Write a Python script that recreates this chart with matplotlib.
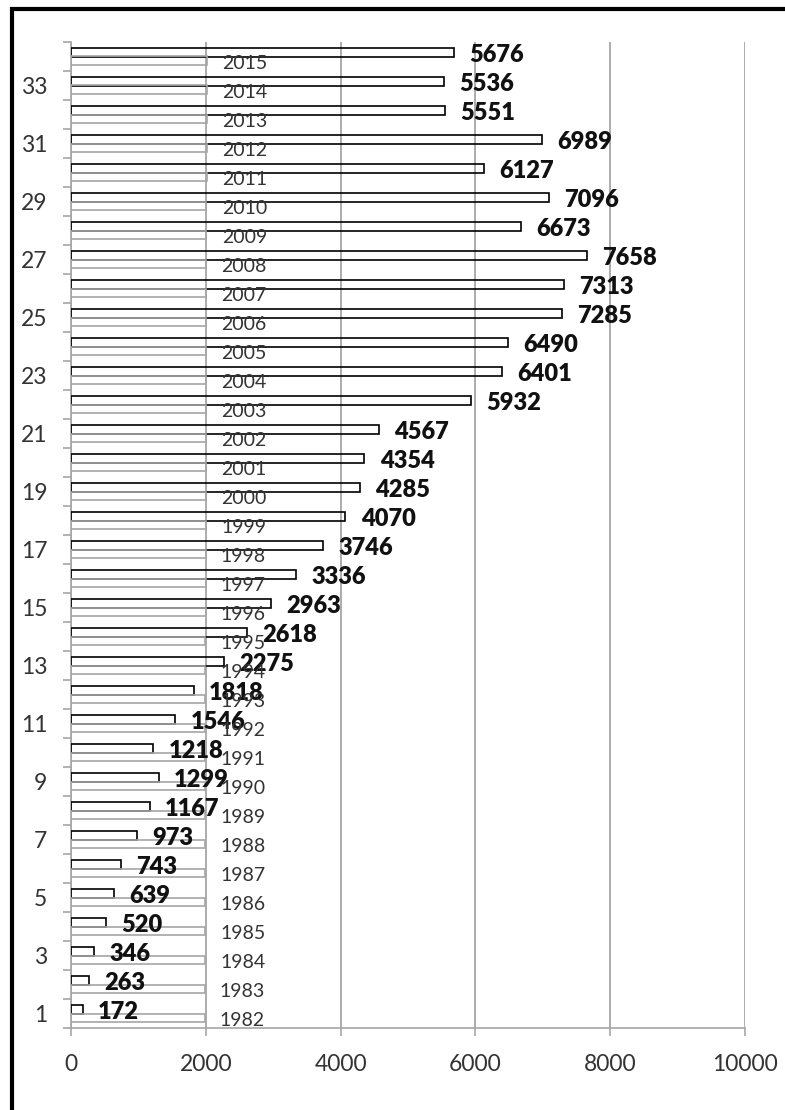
import numpy as np
import matplotlib.pyplot as plt
from matplotlib.patches import Rectangle

plt.rcParams['font.family'] = ['Lato', 'DejaVu Sans']

cats = [1, 2, 3, 4, 5, 6, 7, 8, 9, 10, 11, 12, 13, 14, 15, 16, 17,
        18, 19, 20, 21, 22, 23, 24, 25, 26, 27, 28, 29, 30, 31, 32, 33, 34]
values = [172, 263, 346, 520, 639, 743, 973, 1167, 1299, 1218, 1546, 1818,
          2275, 2618, 2963, 3336, 3746, 4070, 4285, 4354, 4567, 5932, 6401,
          6490, 7285, 7313, 7658, 6673, 7096, 6127, 6989, 5551, 5536, 5676]
years = [1982, 1983, 1984, 1985, 1986, 1987, 1988, 1989, 1990, 1991, 1992,
         1993, 1994, 1995, 1996, 1997, 1998, 1999, 2000, 2001, 2002, 2003,
         2004, 2005, 2006, 2007, 2008, 2009, 2010, 2011, 2012, 2013, 2014, 2015]
xticks = [0, 2000, 4000, 6000, 8000, 10000]
ylabels = [1, 3, 5, 7, 9, 11, 13, 15, 17, 19, 21, 23, 25, 27, 29, 31, 33]

W, H = 785, 1110
fig = plt.figure(figsize=(W / 100, H / 100), dpi=100)
ax = fig.add_axes([71 / W, (H - 1028) / H, (745 - 71) / W, (1028 - 42) / H])

grey = '#a6a6a6'
y = np.array(cats, dtype=float)
h = 0.31

ax.barh(y + h / 2, values, height=h, facecolor='none', edgecolor='black', lw=1.2, zorder=3)
ax.barh(y - h / 2, years, height=h, facecolor='none', edgecolor=grey, lw=1.2, zorder=3)

for yy, v in zip(y, values):
    ax.annotate(str(v), (v, yy + 0.06), xytext=(11, 0), textcoords='offset points',
                va='center', ha='left', fontsize=17, fontweight='heavy', color='#111111', zorder=4)
for yy, yr in zip(y, years):
    ax.annotate(str(yr), (yr, yy - h / 2 - 0.08), xytext=(11, 0), textcoords='offset points',
                va='center', ha='left', fontsize=14, color='#333333', zorder=4)

ax.set_xlim(0, 10000)
ax.set_ylim(0.5, 34.5)
ax.set_xticks(xticks)
ax.set_xticklabels([str(t) for t in xticks])
ax.set_yticks(ylabels)
ax.set_yticklabels([str(t) for t in ylabels])
ax.set_yticks(np.arange(0.5, 35, 1), minor=True)

ax.tick_params(axis='y', which='major', length=0, pad=17, labelsize=16.5, labelcolor='#333333')
ax.tick_params(axis='y', which='minor', length=6, width=1.2, color=grey)
ax.tick_params(axis='x', which='major', length=6, width=1.2, color=grey, pad=13,
               labelsize=16.5, labelcolor='#333333')

for s in ['top', 'right']:
    ax.spines[s].set_visible(False)
for s in ['left', 'bottom']:
    ax.spines[s].set_color(grey)
    ax.spines[s].set_linewidth(1.2)

ax.grid(axis='x', color=grey, lw=1.3, zorder=1)
ax.set_axisbelow(True)

# outer frame (cropped on right and bottom)
fig.patches.append(Rectangle((11.5 / W, -0.1), 1.2, (H - 8.5) / H + 0.1,
                             transform=fig.transFigure, fill=False, edgecolor='black', lw=3))

fig.savefig('out.png', dpi=100)
